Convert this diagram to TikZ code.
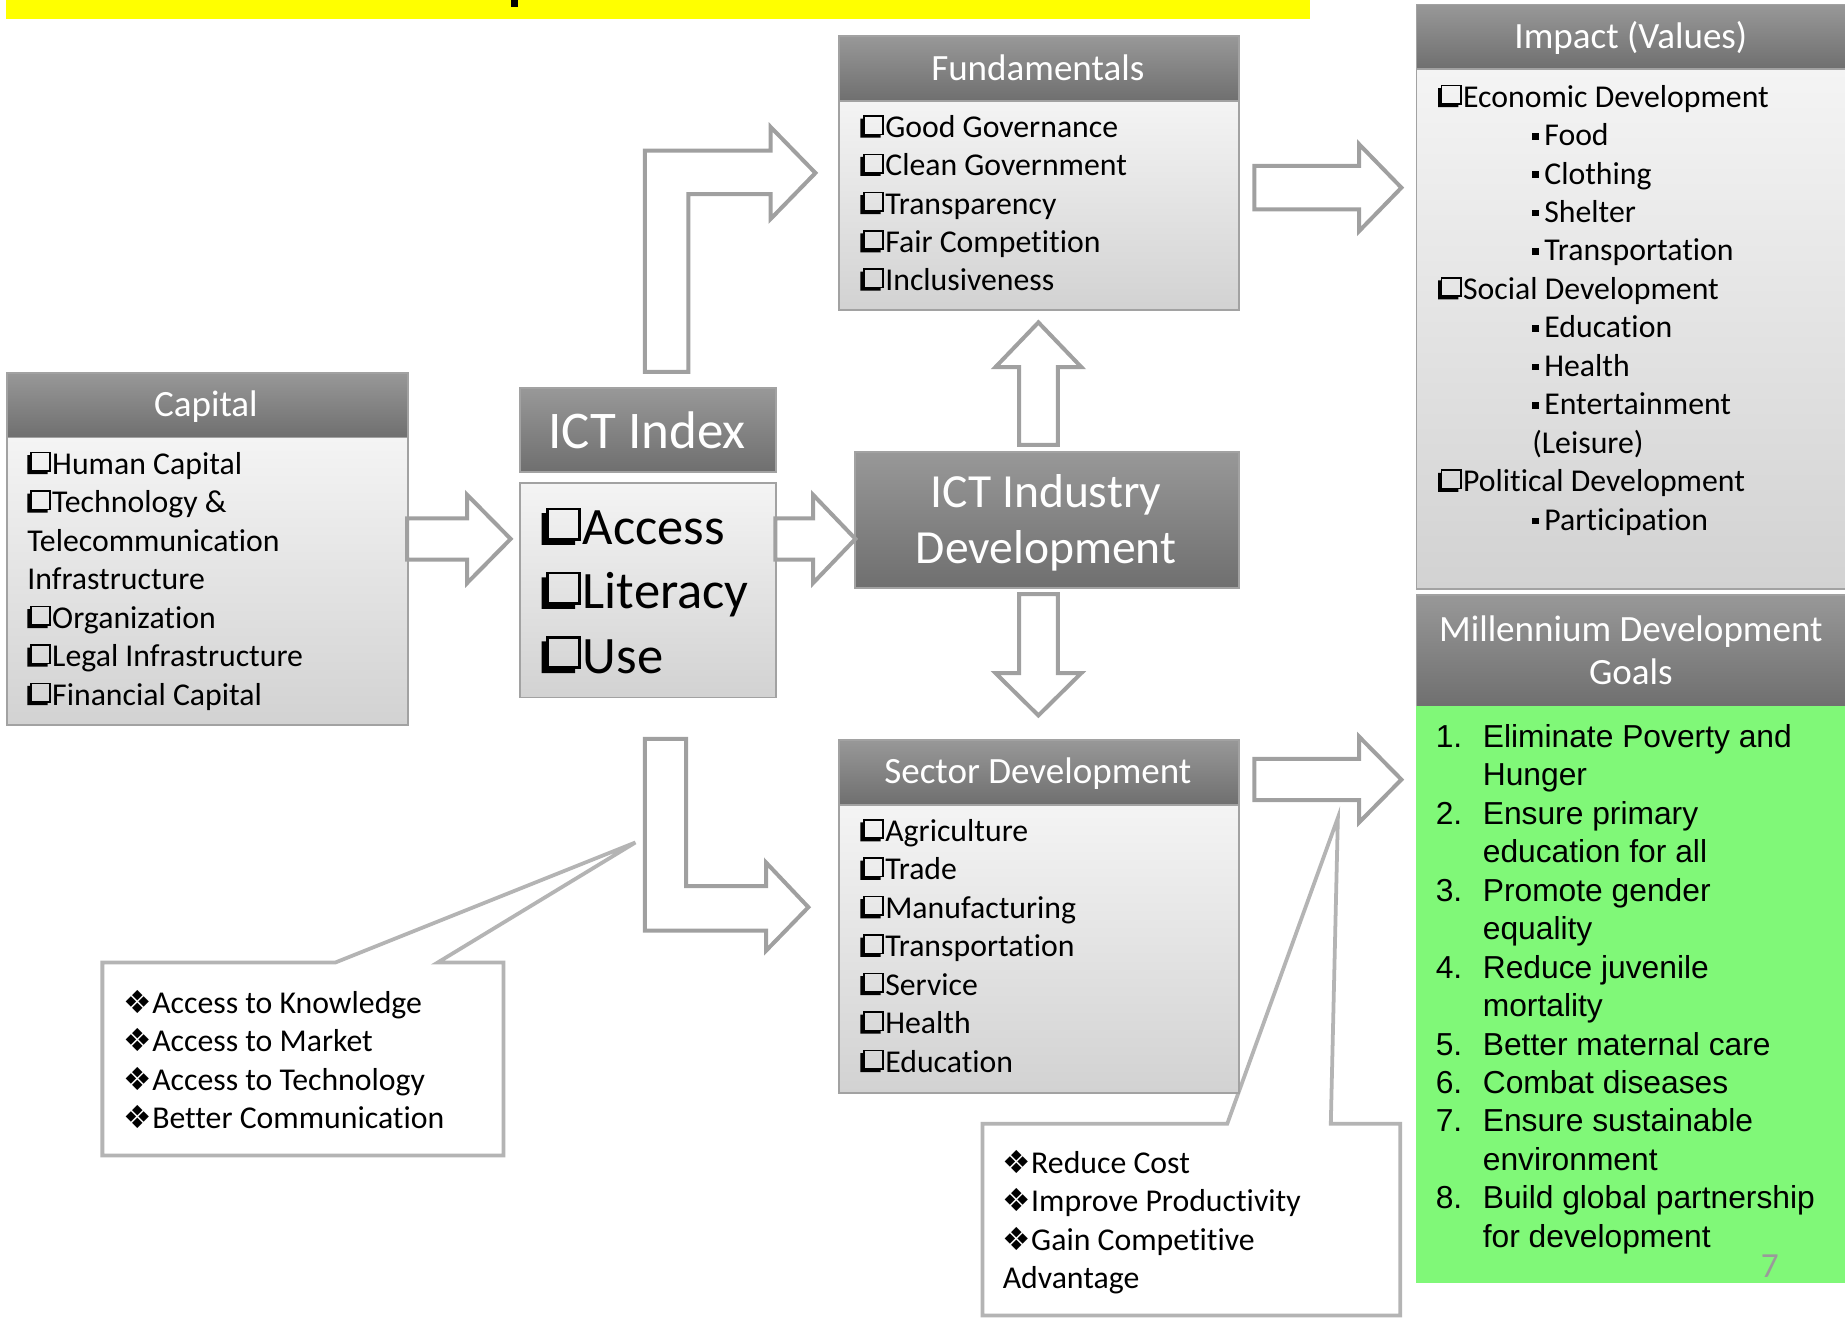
\documentclass[tikz,border=0pt]{standalone}
\usepackage{fontspec}
\setmainfont{Carlito}[Ligatures=NoCommon]
\newfontfamily\arialfont{Liberation Sans}
\newfontfamily\symfont{DejaVu Sans}

\definecolor{hdrtop}{HTML}{989898}
\definecolor{hdrbot}{HTML}{6F6F6F}
\definecolor{bodytop}{HTML}{F4F4F4}
\definecolor{bodybot}{HTML}{D2D2D2}
\definecolor{edge}{HTML}{A2A2A2}
\definecolor{arrowedge}{HTML}{A0A0A0}
\definecolor{calloutedge}{HTML}{B4B4B4}
\definecolor{mdggreen}{HTML}{80F878}
\definecolor{slideno}{HTML}{9A9A9A}
\definecolor{banner}{HTML}{FFFF00}

\newcommand\itemsize{\fontsize{27}{32.6}\selectfont}
\newcommand\hdrsize{\fontsize{31.5}{38}\selectfont}
\newcommand\idxsize{\fontsize{45}{54}\selectfont}
\newcommand\indsize{\fontsize{40.4}{48}\selectfont}
\newcommand\biglist{\fontsize{44.7}{54}\selectfont}

% shadowed check box (open square with a lower-left shadow)
\newcommand\qbx{\tikz[baseline=0pt,x=1em,y=1em]{%
  \draw[line width=0.05em] (0.11,0.1) rectangle (0.72,0.68);
  \fill (0,0) -- (0.64,0) -- (0.64,0.1) -- (0.11,0.1) -- (0.11,0.6) -- (0,0.6) -- cycle;}%
  \hspace{0.04em}}
% small square bullet
\newcommand\sqb{\rule[0.19em]{0.21em}{0.21em}\hspace{0.17em}}
% four-diamond bullet
\newcommand\dia{{\symfont ❖}}

% horizontal block arrow: tail x, tip x, mid y, half shaft, half head, head length
\newcommand\rarrow[6]{%
  \draw[blk] ({#1},{#3-#4}) -- ({#2-#6},{#3-#4}) -- ({#2-#6},{#3-#5}) -- ({#2},{#3})
    -- ({#2-#6},{#3+#5}) -- ({#2-#6},{#3+#4}) -- ({#1},{#3+#4}) -- cycle;}
% vertical block arrow: mid x, tail y, tip y, half shaft, half head, head length (signed)
\newcommand\varrow[6]{%
  \draw[blk] ({#1-#4},{#2}) -- ({#1-#4},{#3-(#6)}) -- ({#1-#5},{#3-(#6)}) -- ({#1},{#3})
    -- ({#1+#5},{#3-(#6)}) -- ({#1+#4},{#3-(#6)}) -- ({#1+#4},{#2}) -- cycle;}

\tikzset{
  hdrbox/.style={draw=edge, line width=1.6, top color=hdrtop, bottom color=hdrbot,
    inner sep=0, anchor=north west},
  bodybox/.style={draw=edge, line width=1.6, top color=bodytop, bottom color=bodybot,
    inner sep=0, anchor=north west},
  blk/.style={draw=arrowedge, fill=white, line width=3.4, line join=miter},
  callout/.style={draw=calloutedge, fill=white, line width=3.2, line join=miter},
  itm/.style={anchor=base west, inner sep=0, font=\itemsize},
  hdrtxt/.style={anchor=base, inner sep=0, text=white, font=\hdrsize},
}

\begin{document}
\begin{tikzpicture}[x=1pt,y=-1pt]
\useasboundingbox (0,0) rectangle (1568,1121);
\fill[white] (0,0) rectangle (1568,1121);

% title banner (cut off at the top)
\fill[banner] (5,0) rectangle (1113,16);
\fill[black] (434,0) rectangle (440,6);

% callouts
\draw[callout] (87,818) -- (285,818) -- (540,716) -- (372,818) -- (428,818)
  -- (428,982) -- (87,982) -- cycle;
\draw[callout] (835,955) -- (1043,955) -- (1137,695) -- (1131,955) -- (1190,955)
  -- (1190,1118) -- (835,1118) -- cycle;

% boxes
\node[hdrbox,minimum width=340,minimum height=55] (fundH) at (712,30) {};
\node[bodybox,minimum width=340,minimum height=178] (fundB) at (712,85) {};
\node[hdrbox,minimum width=367,minimum height=55] (impH) at (1203,3) {};
\node[bodybox,minimum width=367,minimum height=442] (impB) at (1203,58) {};
\node[hdrbox,minimum width=367,minimum height=95] (mdgH) at (1203,505) {};
\node[fill=mdggreen,inner sep=0,anchor=north west,minimum width=367,minimum height=490] (mdgB) at (1203,600) {};
\node[hdrbox,minimum width=341,minimum height=55] (capH) at (5,316) {};
\node[bodybox,minimum width=341,minimum height=244] (capB) at (5,371) {};
\node[hdrbox,minimum width=218,minimum height=71] (idxH) at (441,329) {};
\node[bodybox,minimum width=218,minimum height=182] (idxB) at (441,410) {};
\node[hdrbox,minimum width=326,minimum height=116] (ind) at (726,383) {};
\node[hdrbox,minimum width=340,minimum height=55] (secH) at (712,628) {};
\node[bodybox,minimum width=340,minimum height=245] (secB) at (712,683) {};

% block arrows
\rarrow{346}{434}{458}{17.5}{37.5}{37}
\rarrow{659}{727}{458}{17.5}{37.5}{36}
\rarrow{1066}{1191}{159.5}{18.5}{37}{36}
\rarrow{1066}{1191}{662.5}{17.5}{36.5}{36}
\varrow{882.5}{378}{274}{16.5}{36.5}{-38}
\varrow{882.5}{505}{608}{16.5}{36.5}{36}
% bent arrows from the index
\draw[blk] (548,316) -- (548,128) -- (655,128) -- (655,108) -- (693,147) -- (655,186)
  -- (655,165) -- (585,165) -- (585,316) -- cycle;
\draw[blk] (548,628) -- (548,791) -- (651,791) -- (651,808) -- (687,771) -- (651,733)
  -- (651,753) -- (583,753) -- (583,628) -- cycle;

% headings
\node[hdrtxt] (fundT) at (882,68) {Fundamentals};
\node[hdrtxt] (impT) at (1386,41) {Impact (Values)};
\node[hdrtxt] (mdgT1) at (1386,545) {Millennium Development};
\node[hdrtxt] (mdgT2) at (1386,582) {Goals};
\node[hdrtxt] (capT) at (175,354) {Capital};
\node[hdrtxt] (secT) at (882,666) {Sector Development};
\node[hdrtxt,font=\idxsize] (idxT) at (550,381) {ICT Index};
\node[hdrtxt,font=\indsize] (indT1) at (889,431) {ICT Industry};
\node[hdrtxt,font=\indsize] (indT2) at (889,479) {Development};

% lists
\foreach \t [count=\i from 0] in {Good Governance,Clean Government,Transparency,Fair Competition,Inclusiveness}
  \node[itm] (fu\i) at (731,117+32.5*\i) {\qbx\t};

\foreach \t [count=\i from 0] in {\qbx Human Capital,\qbx Technology \&,Telecommunication,Infrastructure,\qbx Organization,\qbx Legal Infrastructure,\qbx Financial Capital}
  \node[itm] (ca\i) at (23,403+32.7*\i) {\t};

\foreach \x/\t [count=\i from 0] in {1222/\qbx Economic Development,1302/\sqb Food,1302/\sqb Clothing,1302/\sqb Shelter,1302/\sqb Transportation,1222/\qbx Social Development,1302/\sqb Education,1302/\sqb Health,1302/\sqb Entertainment,1302/(Leisure),1222/\qbx Political Development,1302/\sqb Participation}
  \node[itm] (im\i) at (\x,91+32.7*\i) {\t};

\foreach \t [count=\i from 0] in {Eliminate Poverty and,Hunger,Ensure primary,education for all,Promote gender,equality,Reduce juvenile,mortality,Better maternal care,Combat diseases,Ensure sustainable,environment,Build global partnership,for development}
  \node[itm,font=\itemsize\arialfont] (md\i) at (1260,635+32.7*\i) {\t};
\foreach \n/\l in {1/0,2/2,3/4,4/6,5/8,6/9,7/10,8/12}
  \node[itm,font=\itemsize\arialfont] (mn\n) at (1220,635+32.7*\l) {\n.};
\node[anchor=base,inner sep=0,font=\fontsize{30}{36}\selectfont,text=slideno] (pageno) at (1504,1086) {7};

\foreach \t [count=\i from 0] in {Agriculture,Trade,Manufacturing,Transportation,Service,Health,Education}
  \node[itm] (se\i) at (731,715+32.7*\i) {\qbx\t};

\foreach \t [count=\i from 0] in {Access,Literacy,Use}
  \node[itm,font=\biglist] (ix\i) at (460,463+54.5*\i) {\qbx\t};

\foreach \t [count=\i from 0] in {Access to Knowledge,Access to Market,Access to Technology,Better Communication}
  \node[itm] (ka\i) at (105,861+32.7*\i) {\dia\t};

\foreach \t [count=\i from 0] in {\dia Reduce Cost,\dia Improve Productivity,\dia Gain Competitive,Advantage}
  \node[itm] (kb\i) at (852,997+32.7*\i) {\t};
\end{tikzpicture}
\end{document}
